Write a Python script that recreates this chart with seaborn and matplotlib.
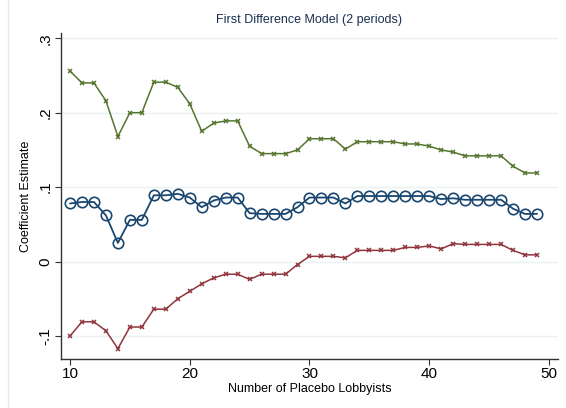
import matplotlib
matplotlib.use("Agg")
import matplotlib.pyplot as plt
import seaborn as sns
import pandas as pd

lobbyists = list(range(10, 50))
upper = [0.256, 0.240, 0.240, 0.216, 0.168, 0.200, 0.200, 0.241, 0.241, 0.234,
         0.212, 0.175, 0.186, 0.189, 0.189, 0.155, 0.145, 0.145, 0.145, 0.150,
         0.165, 0.165, 0.165, 0.151, 0.161, 0.161, 0.161, 0.161, 0.158, 0.158,
         0.155, 0.150, 0.147, 0.142, 0.142, 0.142, 0.142, 0.128, 0.119, 0.119]
estimate = [0.078, 0.080, 0.080, 0.062, 0.025, 0.056, 0.056, 0.089, 0.089, 0.091,
            0.086, 0.073, 0.082, 0.086, 0.086, 0.065, 0.064, 0.064, 0.064, 0.073,
            0.086, 0.086, 0.086, 0.078, 0.088, 0.088, 0.088, 0.088, 0.088, 0.088,
            0.088, 0.084, 0.085, 0.083, 0.083, 0.083, 0.083, 0.071, 0.064, 0.064]
lower = [-0.100, -0.081, -0.081, -0.093, -0.117, -0.088, -0.088, -0.064, -0.064, -0.050,
         -0.040, -0.030, -0.022, -0.017, -0.017, -0.024, -0.017, -0.017, -0.017, -0.004,
         0.007, 0.007, 0.007, 0.005, 0.015, 0.015, 0.015, 0.015, 0.019, 0.019,
         0.021, 0.017, 0.024, 0.023, 0.023, 0.023, 0.023, 0.015, 0.009, 0.009]
yticks = [-0.1, 0, 0.1, 0.2, 0.3]
yticklabels = ["-.1", "0", ".1", ".2", ".3"]
xticks = [10, 20, 30, 40, 50]

sns.set_style("white")
plt.rcParams['font.family'] = ['Liberation Sans', 'DejaVu Sans']

df = pd.DataFrame({"x": lobbyists, "upper": upper, "est": estimate, "lower": lower})

fig = plt.figure(figsize=(5.66, 4.08), dpi=100)
ax = fig.add_axes([0.1078, 0.120, 0.878, 0.799])

navy = "#1a476f"
maroon = "#90353b"
green = "#55752f"

sns.lineplot(data=df, x="x", y="upper", ax=ax, color=green, lw=1.1,
             marker="x", markersize=3.5, markeredgewidth=1.1, markeredgecolor=green)
sns.lineplot(data=df, x="x", y="lower", ax=ax, color=maroon, lw=1.1,
             marker="x", markersize=3.5, markeredgewidth=1.1, markeredgecolor=maroon)
sns.lineplot(data=df, x="x", y="est", ax=ax, color=navy, lw=1.3,
             marker="o", markersize=7.5, markerfacecolor="none",
             markeredgewidth=1.2, markeredgecolor=navy)

ax.set_xlim(9.25, 50.75)
ax.set_ylim(-0.131, 0.307)
ax.set_xticks(xticks)
ax.set_yticks(yticks)
ax.set_yticklabels(yticklabels, rotation=90, va="center")
for t in yticks:
    ax.axhline(t, color="#eaf2f3", lw=1.0, zorder=0)

for s in ["top", "right"]:
    ax.spines[s].set_visible(False)
for s in ["left", "bottom"]:
    ax.spines[s].set_color("#333333")
    ax.spines[s].set_linewidth(1.0)
ax.tick_params(axis="both", direction="out", length=4, width=0.8, color="#333333",
               labelsize=11, labelcolor="black", bottom=True, left=True, pad=2)

ax.set_xlabel("Number of Placebo Lobbyists", fontsize=9, color="black", labelpad=1)
ax.set_ylabel("Coefficient Estimate", fontsize=9, color="black", labelpad=5)
ax.set_title("First Difference Model (2 periods)", fontsize=9, color="#1a2f4f", pad=7)

fig.patches.append(plt.Rectangle((0.015, -0.01), 1.0, 1.02, transform=fig.transFigure,
                                 fill=False, edgecolor="#e3eef2", lw=1.0))

fig.savefig("out.png", dpi=100)
